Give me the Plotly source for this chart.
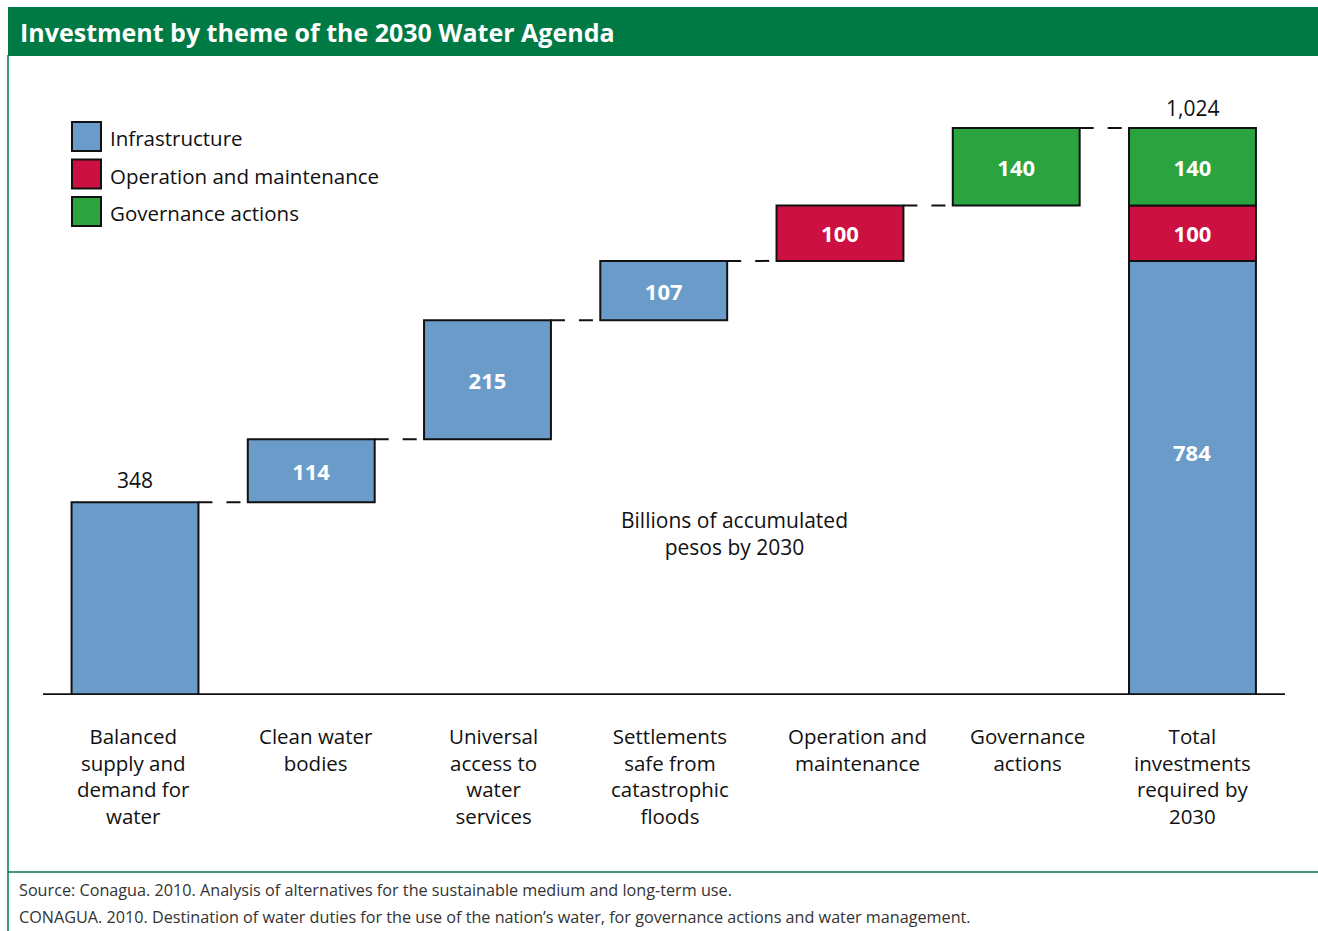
import plotly.graph_objects as go

# ---------------- data ----------------
categories = [
    "Balanced<br>supply and<br>demand for<br>water",
    "Clean water<br>bodies",
    "Universal<br>access to<br>water<br>services",
    "Settlements<br>safe from<br>catastrophic<br>floods",
    "Operation and<br>maintenance",
    "Governance<br>actions",
    "Total<br>investments<br>required by<br>2030",
]
series_names = ["Infrastructure", "Operation and maintenance", "Governance actions"]
infra_values = [348, 114, 215, 107]      # first four themes
om_value = 100                           # operation and maintenance
gov_value = 140                          # governance actions
middle_note = "Billions of accumulated<br>pesos by 2030"
title_text = "Investment by theme of the 2030 Water Agenda"
source_lines = [
    "Source: Conagua. 2010. Analysis of alternatives for the sustainable medium and long-term use.",
    "CONAGUA. 2010. Destination of water duties for the use of the nation\u2019s water, for governance actions and water management.",
]

# ---------------- styles ----------------
C_BLUE = "#6A9BC9"
C_RED = "#CC1142"
C_GREEN = "#2BA33E"
C_HEAD = "#007A45"
FONT = "Open Sans"
colors = [C_BLUE, C_RED, C_GREEN]
INNER = dict(family=FONT, size=22, color="white", weight="bold")

# ---------------- derived ----------------
infra_total = sum(infra_values)
bases_infra = []
acc = 0
for v in infra_values:
    bases_infra.append(acc)
    acc += v
om_base = infra_total
gov_base = infra_total + om_value
grand_total = gov_base + gov_value

xi = list(range(len(categories)))
BW = 0.72

fig = go.Figure()

infra_text = [""] + [str(v) for v in infra_values[1:]] + [""]
fig.add_trace(go.Bar(
    x=xi[:4] + [6], y=infra_values + [infra_total], base=bases_infra + [0],
    width=BW, marker=dict(color=C_BLUE, line=dict(color="#111111", width=2)),
    text=infra_text, textposition="inside", insidetextanchor="middle",
    textfont=INNER, name=series_names[0], showlegend=False, hoverinfo="skip",
))
fig.add_trace(go.Bar(
    x=[4, 6], y=[om_value, om_value], base=[om_base, om_base],
    width=BW, marker=dict(color=C_RED, line=dict(color="#111111", width=2)),
    text=[str(om_value)] * 2, textposition="inside", insidetextanchor="middle",
    textfont=INNER, name=series_names[1], showlegend=False, hoverinfo="skip",
))
fig.add_trace(go.Bar(
    x=[5, 6], y=[gov_value, gov_value], base=[gov_base, gov_base],
    width=BW, marker=dict(color=C_GREEN, line=dict(color="#111111", width=2)),
    text=[str(gov_value)] * 2, textposition="inside", insidetextanchor="middle",
    textfont=INNER, name=series_names[2], showlegend=False, hoverinfo="skip",
))
# label of the total infrastructure segment (placed in its upper part)
fig.add_annotation(x=6, y=infra_total * 0.56, text=f"<b>{infra_total}</b>", showarrow=False,
                   font=INNER)

# connectors
levels = []
acc = 0
for v in infra_values:
    acc += v
    levels.append(acc)
levels += [gov_base, grand_total]
for i, lv in enumerate(levels):
    fig.add_trace(go.Scatter(
        x=[i + BW / 2, i + 1 - BW / 2], y=[lv, lv], mode="lines",
        line=dict(color="#111111", width=2, dash="14px,14px"),
        showlegend=False, hoverinfo="skip",
    ))

# value labels above
fig.add_annotation(x=0, y=infra_values[0], text=f"{infra_values[0]:,}", showarrow=False,
                   yanchor="bottom", yshift=6, font=dict(family=FONT, size=21, color="#111111"))
fig.add_annotation(x=6, y=grand_total, text=f"{grand_total:,}", showarrow=False,
                   yanchor="bottom", yshift=4, font=dict(family=FONT, size=21, color="#111111"))

# category labels
xshifts = [-2, 5, 6, 6, 18, 11, 0]
for i, c in enumerate(categories):
    fig.add_annotation(x=i, y=-0.04, yref="paper", text=c, showarrow=False, yanchor="top",
                       xshift=xshifts[i], align="center",
                       font=dict(family=FONT, size=20.5, color="#111111"))

# middle note
fig.add_annotation(x=3.4, y=292, text=middle_note, showarrow=False, align="center",
                   font=dict(family=FONT, size=21, color="#111111"))

# ---------------- frame / header ----------------
PW, PH = 1242.0, 635.0
L, T = 43.0, 60.0


def px(x):
    return (x - L) / PW


def py(y):
    return (T + PH - y) / PH


shapes = []
shapes.append(dict(type="rect", xref="paper", yref="paper", x0=px(8), x1=px(1320), y0=py(56), y1=py(7),
                   fillcolor=C_HEAD, line=dict(width=0), layer="below"))
shapes.append(dict(type="line", xref="paper", yref="paper", x0=px(8), x1=px(8), y0=py(931), y1=py(55),
                   line=dict(color=C_HEAD, width=1.5)))
shapes.append(dict(type="line", xref="paper", yref="paper", x0=px(8), x1=px(1320), y0=py(872), y1=py(872),
                   line=dict(color=C_HEAD, width=1.5)))
# baseline
shapes.append(dict(type="line", xref="paper", yref="y", x0=0, x1=1, y0=0, y1=0,
                   line=dict(color="#111111", width=3.5)))
# legend
for k, (nm, col) in enumerate(zip(series_names, colors)):
    top = 122 + k * 37.5
    shapes.append(dict(type="rect", xref="paper", yref="paper", x0=px(72), x1=px(101),
                       y0=py(top + 29), y1=py(top), fillcolor=col, line=dict(color="#111111", width=2)))
    fig.add_annotation(xref="paper", yref="paper", x=px(108), y=py(top + 16), text=nm, showarrow=False,
                       xanchor="left", yanchor="middle", font=dict(family=FONT, size=20.5, color="#111111"))

fig.add_annotation(xref="paper", yref="paper", x=px(18), y=py(32), text=f"<b>{title_text}</b>",
                   showarrow=False, xanchor="left", yanchor="middle",
                   font=dict(family=FONT, size=25, color="white"))
for k, s in enumerate(source_lines):
    fig.add_annotation(xref="paper", yref="paper", x=px(17), y=py(890 + k * 27), text=s,
                       showarrow=False, xanchor="left", yanchor="middle",
                       font=dict(family=FONT, size=16.2, color="#333333"))

fig.update_layout(
    width=1318, height=931,
    margin=dict(l=L, r=1318 - L - PW, t=T, b=931 - T - PH, pad=0),
    paper_bgcolor="white", plot_bgcolor="white",
    barmode="overlay", shapes=shapes, showlegend=False,
    xaxis=dict(range=[-0.522, 6.525], showticklabels=False, showgrid=False, zeroline=False,
               showline=False, fixedrange=True),
    yaxis=dict(range=[0, PH / 0.5537], showticklabels=False, showgrid=False, zeroline=False,
               showline=False, fixedrange=True),
)

fig.write_html("out.html")
